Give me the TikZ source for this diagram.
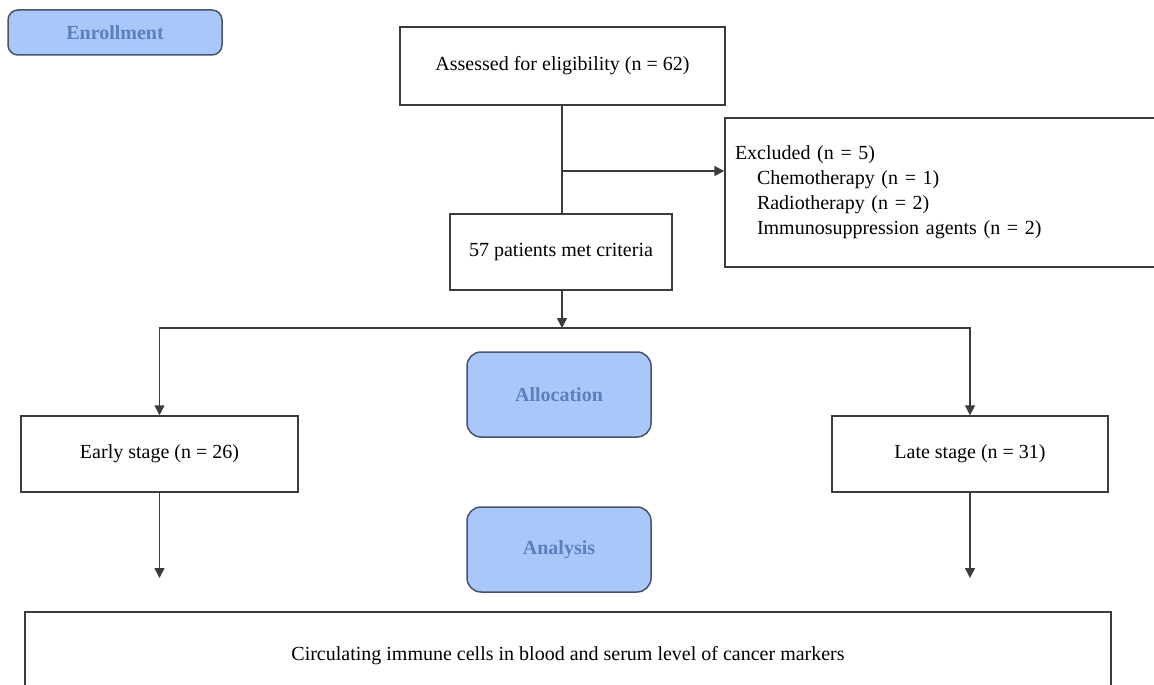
\documentclass[tikz,border=0pt]{standalone}
\usepackage{fontspec}
\setmainfont{Liberation Serif}
\usetikzlibrary{arrows.meta}
\definecolor{phasefill}{RGB}{170,199,250}
\definecolor{phaseline}{RGB}{72,82,104}
\definecolor{phasetext}{RGB}{92,128,190}
\definecolor{boxline}{RGB}{60,60,60}
\tikzset{
  box/.style={draw=boxline,line width=0.75pt,inner sep=0pt,fill=white,font=\fontsize{10}{12.5}\selectfont},
  phase/.style={draw=phaseline,line width=0.75pt,fill=phasefill,rounded corners=7pt,text=phasetext,font=\fontsize{10}{12}\selectfont\bfseries},
  link/.style={draw=boxline,line width=0.75pt},
  >={Triangle[length=5pt,width=5pt]}
}

\begin{document}
\begin{tikzpicture}[x=0.5pt,y=-0.5pt]
  \clip (0,0) rectangle (1154,684); %画面の範囲
  % 段階のラベル
  \node[phase,rounded corners=5pt,minimum width=107pt,minimum height=22.5pt] (enroll) at (115,32.5) {Enrollment};
  \node[phase,minimum width=92pt,minimum height=42.5pt] (alloc) at (559,394.5) {Allocation};
  \node[phase,minimum width=92pt,minimum height=42.5pt] (anal) at (559,549.5) {Analysis};
  % 箱
  \node[box,minimum width=162.5pt,minimum height=39pt] (assess) at (562.5,66) {Assessed for eligibility (n = 62)};
  \node[box,minimum width=222.5pt,minimum height=74.5pt,inner xsep=5pt,text width=212.5pt,align=left] (excl) at (947.5,192.5)
    {Excluded (n = 5)\\\hspace*{11pt}Chemotherapy (n = 1)\\\hspace*{11pt}Radiotherapy (n = 2)\\\hspace*{11pt}Immunosuppression agents (n = 2)};
  \node[box,minimum width=111pt,minimum height=38pt] (met) at (561,252) {57 patients met criteria};
  \node[box,minimum width=138.5pt,minimum height=38pt] (early) at (159.5,454) {Early stage (n = 26)};
  \node[box,minimum width=138pt,minimum height=38pt] (late) at (970,454) {Late stage (n = 31)};
  \node[box,minimum width=543pt,minimum height=44pt] (result) at (568,656) {Circulating immune cells in blood and serum level of cancer markers};
  % 分岐点・矢印の先
  \coordinate (br) at (562,171);
  \coordinate (split) at (562,328);
  \coordinate (earlyend) at (159.5,578);
  \coordinate (lateend) at (970,578);
  % 線
  \draw[link] (assess.south -| br) -- (br |- met.north);
  \draw[link,->] (br) -- (br -| excl.west);
  \draw[link,->] (met.south -| split) -- (split);
  \draw[link,->] (split) -| (early.north);
  \draw[link,->] (split) -| (late.north);
  \draw[link,->] (early.south) -- (earlyend);
  \draw[link,->] (late.south) -- (lateend);
\end{tikzpicture}
\end{document}
